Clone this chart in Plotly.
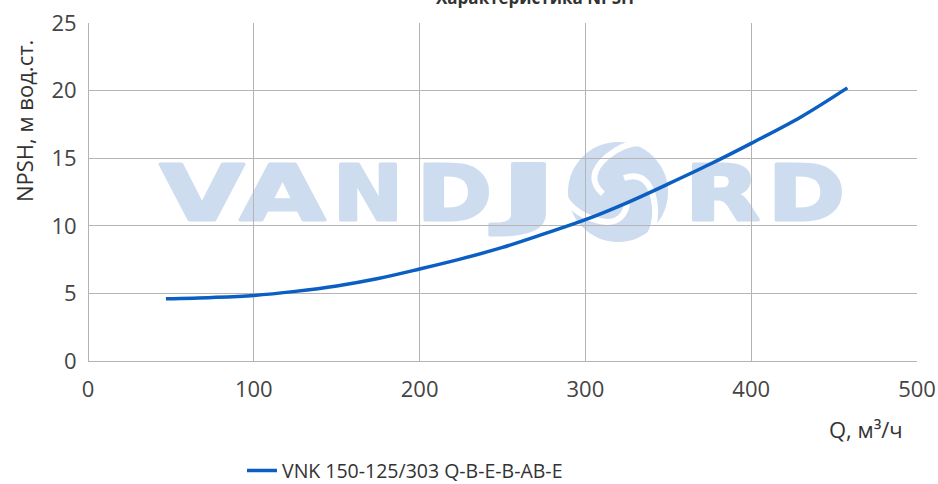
import base64
import plotly.graph_objects as go

# ---- data ----
q_values = [47, 75, 100, 125, 150, 175, 200, 225, 250, 275, 300, 325, 350, 375, 400, 430, 458]
npsh_values = [4.6, 4.7, 4.85, 5.15, 5.55, 6.1, 6.8, 7.55, 8.4, 9.4, 10.45, 11.7, 13.1, 14.55, 16.1, 18.05, 20.2]
series_name = "VNK 150-125/303 Q-B-E-B-AB-E"
x_ticks = [0, 100, 200, 300, 400, 500]
y_ticks = [0, 5, 10, 15, 20, 25]
chart_title = "Характеристика NPSH"
x_title = "Q, м³/ч"
y_title = "NPSH, м вод.ст."
watermark_letters = ["V", "A", "N", "D", "J", "R", "D"]

# ---- watermark (decoration) as SVG image placed under the grid ----
W, H = 829, 338
col = "#cddcef"
letter_boxes = [(72, 84), (152, 85), (245, 70), (329, 75), (412, 57), (597, 75), (680, 77)]
parts = []
for ch, (lx, lw) in zip(watermark_letters, letter_boxes):
    parts.append(
        f'<text x="{lx}" y="197" textLength="{lw}" lengthAdjust="spacingAndGlyphs" '
        f'font-family="DejaVu Sans" font-weight="bold" font-size="76" fill="{col}" '
        f'stroke="{col}" stroke-width="3" stroke-linejoin="round">{ch}</text>'
    )
cx, cy = 530, 169
logo = [f'<circle cx="{cx}" cy="{cy}" r="50" fill="{col}"/>']
for ang in (0, 120, 240):
    logo.append(
        f'<g transform="translate({cx},{cy}) rotate({ang})">'
        f'<path d="M 6,-14 Q 30,-22 36,8 Q 40,30 30,46" fill="none" stroke="white" stroke-width="6"/>'
        f'</g>'
    )
logo.append(f'<circle cx="{cx}" cy="{cy}" r="11" fill="{col}"/>')
svg = (
    f'<svg xmlns="http://www.w3.org/2000/svg" width="{W}" height="{H}" viewBox="0 0 {W} {H}">'
    + "".join(parts) + "".join(logo) + "</svg>"
)
src = "data:image/svg+xml;base64," + base64.b64encode(svg.encode("utf-8")).decode("ascii")

fig = go.Figure()
fig.add_trace(go.Scatter(
    x=q_values, y=npsh_values, mode="lines", name=series_name,
    line=dict(color="#0b5ec2", width=3.5, shape="spline"),
))

font_family = "Open Sans, Noto Sans, sans-serif"
fig.update_layout(
    width=938, height=484,
    margin=dict(l=88, r=21, t=23, b=123, autoexpand=False),
    paper_bgcolor="white", plot_bgcolor="rgba(0,0,0,0)",
    font=dict(family=font_family, color="#444"),
    showlegend=True,
    legend=dict(orientation="h", x=(242 - 88) / 829, xanchor="left", y=-0.325, yanchor="middle",
                font=dict(size=19.5, color="#333"), bgcolor="rgba(0,0,0,0)"),
    images=[dict(source=src, xref="paper", yref="paper", x=0, y=1, sizex=1, sizey=1,
                 xanchor="left", yanchor="top", sizing="stretch", layer="below")],
    annotations=[
        dict(text=f"<b>{chart_title}</b>", xref="paper", yref="paper", x=(535 - 88) / 829,
             y=(361 - 11) / 338, xanchor="center", yanchor="bottom", showarrow=False,
             font=dict(size=17, color="#333")),
        dict(text=x_title, xref="paper", yref="paper", x=(866 - 88) / 829, y=(361 - 429) / 338,
             xanchor="center", yanchor="middle", showarrow=False, font=dict(size=22, color="#333")),
        dict(text=y_title, xref="paper", yref="paper", x=(24 - 88) / 829, y=(361 - 121) / 338,
             xanchor="center", yanchor="middle", textangle=-90, showarrow=False,
             font=dict(size=22, color="#333")),
    ],
)
fig.update_xaxes(range=[0, 500], tickvals=x_ticks, showgrid=True, gridcolor="#b4b4b4", gridwidth=1,
                 zeroline=True, zerolinecolor="#b4b4b4", zerolinewidth=1, showline=False,
                 ticks="outside", ticklen=9, tickcolor="rgba(0,0,0,0)", automargin=False,
                 tickfont=dict(size=22, color="#444"))
fig.update_yaxes(range=[0, 25], tickvals=y_ticks, showgrid=True, gridcolor="#b4b4b4", gridwidth=1,
                 zeroline=True, zerolinecolor="#b4b4b4", zerolinewidth=1, showline=False,
                 ticks="outside", ticklen=6, tickcolor="rgba(0,0,0,0)", automargin=False,
                 tickfont=dict(size=22, color="#444"))

fig.write_html("out.html", config={"displayModeBar": False},
               post_script="document.body.style.margin='0';")
